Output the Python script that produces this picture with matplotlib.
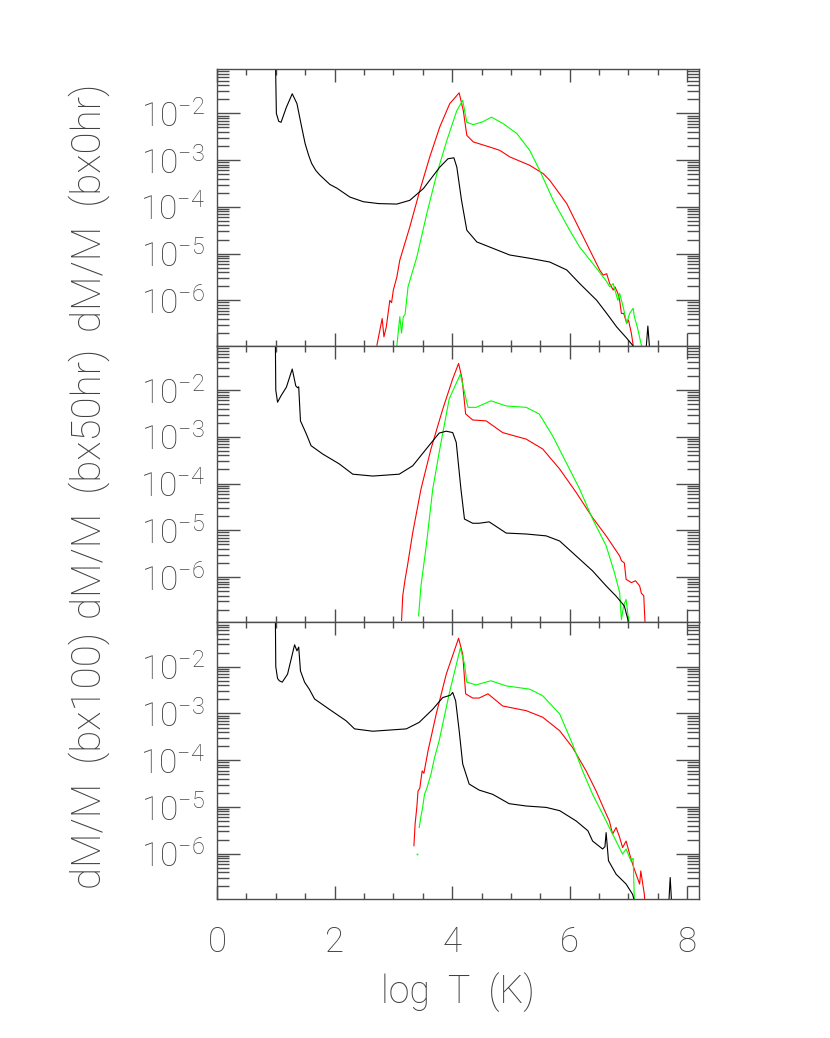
import numpy as np
import matplotlib
matplotlib.use('Agg')
import matplotlib.pyplot as plt
from matplotlib.ticker import LogLocator, MultipleLocator, FuncFormatter, NullFormatter

# thin sans font to stand in for the IDL vector font
plt.rcParams['font.family'] = ['Roboto', 'DejaVu Sans']
plt.rcParams['font.weight'] = 'light'
plt.rcParams['axes.labelweight'] = 'light'

# ---- data: log T vs log10(dM/M) ----
# panel 1 (bx0hr)
p1_blk_x = [0.99, 1.01, 1.05, 1.09, 1.18, 1.28, 1.36, 1.44, 1.50, 1.56, 1.61, 1.68, 1.75, 1.92, 2.04, 2.26, 2.49, 2.75,
            3.06, 3.28, 3.51, 3.79, 3.93, 4.03, 4.08, 4.16, 4.25, 4.42, 4.70, 4.98, 5.32, 5.66, 5.95, 6.17,
            6.46, 6.63, 6.80, 6.97, 7.07, 7.15, np.nan, 7.29, 7.33, 7.37]
p1_blk_y = [-0.5, -2.00, -2.17, -2.19, -1.87, -1.58, -1.79, -2.29, -2.65, -2.90, -3.07, -3.22, -3.32, -3.52, -3.60, -3.79, -3.89, -3.93,
            -3.94, -3.86, -3.61, -3.15, -2.97, -2.95, -3.15, -3.86, -4.50, -4.75, -4.89, -5.03, -5.10, -5.18, -5.35, -5.64,
            -6.00, -6.28, -6.57, -6.81, -6.96, -7.2, np.nan, -7.2, -6.55, -7.2]
p1_red_x = [2.72, 2.81, 2.84, 2.88, 2.94, 2.97, 3.00, 3.06, 3.11, 3.28, 3.45, 3.62, 3.79, 3.96, 4.12, 4.19, 4.25,
            4.36, 4.64, 4.81, 4.98, 5.32, 5.55, 5.66, 5.95, 6.23, 6.51, 6.57, 6.63, 6.68, 6.74, 6.77, 6.82, 6.85,
            6.88, 6.92, 6.97, 7.00, 7.05, 7.08, 7.12]
p1_red_y = [-6.96, -6.39, -6.78, -6.57, -6.00, -6.05, -5.78, -5.50, -5.14, -4.43, -3.65, -2.93, -2.29, -1.79, -1.56, -1.94, -2.47,
            -2.61, -2.72, -2.79, -2.93, -3.11, -3.29, -3.43, -3.93, -4.64, -5.35, -5.46, -5.43, -5.64, -5.78, -5.71, -5.85, -6.00,
            -6.28, -6.28, -6.49, -6.42, -6.71, -6.96, -7.2]
p1_grn_x = [3.06, 3.11, 3.14, 3.17, 3.20, 3.25, 3.40, 3.57, 3.74, 3.91, 4.08, 4.18, 4.25, 4.36, 4.52, 4.67, 4.87,
            5.10, 5.32, 5.49, 5.72, 6.00, 6.17, 6.46, 6.57, 6.63, 6.68, 6.74, 6.77, 6.82, 6.85, 6.91, 6.97, 7.02,
            7.08, 7.10, 7.15, 7.22, 7.25]
p1_grn_y = [-6.97, -6.35, -6.70, -6.35, -6.30, -5.71, -5.07, -4.14, -3.29, -2.58, -1.94, -1.72, -2.19, -2.24, -2.18, -2.08, -2.22,
            -2.43, -2.79, -3.22, -3.86, -4.50, -4.86, -5.32, -5.50, -5.60, -5.71, -5.64, -5.78, -6.00, -5.85, -6.14, -6.49, -6.28,
            -6.17, -6.35, -6.57, -6.96, -7.2]

# panel 2 (bx50hr)
p2_blk_x = [0.99, 1.00, 1.03, 1.09, 1.18, 1.28, 1.34, 1.37, 1.39, 1.42, 1.52, 1.60, 1.80, 2.08, 2.31, 2.65, 3.10,
            3.33, 3.56, 3.78, 3.90, 4.01, 4.07, 4.15, 4.21, 4.35, 4.46, 4.63, 4.92, 5.26, 5.60, 5.83, 6.11, 6.39,
            6.62, 6.79, 6.93, 6.99, 7.02]
p2_blk_y = [-0.5, -2.00, -2.26, -2.12, -1.94, -1.55, -1.91, -1.95, -1.93, -2.66, -2.94, -3.19, -3.37, -3.58, -3.80, -3.84, -3.80,
            -3.62, -3.26, -2.92, -2.88, -2.91, -3.12, -4.12, -4.76, -4.85, -4.85, -4.82, -5.06, -5.08, -5.12, -5.23, -5.55, -5.87,
            -6.19, -6.41, -6.62, -6.91, -7.2]
p2_red_x = [3.14, 3.16, 3.20, 3.24, 3.33, 3.47, 3.64, 3.84, 4.01, 4.11, 4.17, 4.23, 4.35, 4.58, 4.86, 5.26, 5.54,
            5.83, 6.11, 6.39, 6.62, 6.85, 6.88, 6.93, 6.96, 7.05, 7.12, 7.19, 7.22, 7.26, 7.28, 7.30]
p2_red_y = [-6.93, -6.40, -6.05, -5.76, -5.05, -4.12, -3.26, -2.41, -1.76, -1.43, -1.76, -2.51, -2.64, -2.66, -2.91, -3.05, -3.26,
            -3.69, -4.19, -4.73, -5.12, -5.55, -5.65, -5.70, -6.05, -6.12, -6.08, -6.19, -6.35, -6.40, -6.93, -7.2]
p2_grn_x = [3.43, 3.47, 3.56, 3.67, 3.78, 3.95, 4.14, 4.21, 4.27, 4.41, 4.66, 4.92, 5.26, 5.48, 5.71, 5.94, 6.17,
            6.39, 6.62, 6.76, 6.85, 6.88, 6.92, 6.96, 7.00, 7.02]
p2_grn_y = [-6.83, -6.19, -5.33, -4.12, -3.33, -2.19, -1.66, -2.05, -2.37, -2.37, -2.23, -2.34, -2.37, -2.51, -2.98, -3.55, -4.12,
            -4.76, -5.33, -5.90, -6.33, -6.91, -6.60, -6.48, -6.91, -7.2]

# panel 3 (bx100)
p3_blk_x = [0.99, 1.00, 1.03, 1.06, 1.11, 1.20, 1.32, 1.36, 1.39, 1.42, 1.49, 1.57, 1.66, 1.91, 2.20, 2.34, 2.65,
            3.22, 3.44, 3.67, 3.84, 3.97, 4.01, 4.06, 4.12, 4.18, 4.29, 4.46, 4.69, 4.97, 5.26, 5.60, 5.83, 6.11,
            6.31, 6.39, 6.56, 6.60, 6.62, 6.66, 6.79, 6.96, 7.07, 7.12, np.nan, 7.68, 7.71, 7.74]
p3_blk_y = [-0.5, -2.00, -2.25, -2.30, -2.33, -2.16, -1.53, -1.66, -1.58, -2.09, -2.33, -2.48, -2.69, -2.91, -3.16, -3.33, -3.38,
            -3.33, -3.19, -2.91, -2.66, -2.61, -2.55, -2.73, -3.37, -4.08, -4.51, -4.64, -4.73, -4.93, -4.98, -5.01, -5.08, -5.30,
            -5.51, -5.73, -5.90, -5.85, -5.55, -6.15, -6.44, -6.65, -6.87, -7.1, np.nan, -7.2, -6.51, -7.2]
p3_red_x = [3.35, 3.37, 3.40, 3.42, 3.45, 3.49, 3.52, 3.59, 3.73, 3.90, 4.11, 4.18, 4.23, 4.35, 4.46, 4.61, 4.86,
            5.26, 5.54, 5.83, 6.05, 6.28, 6.45, 6.62, 6.675, 6.73, 6.79, 6.85, 6.90, 6.96, 7.02, 7.07, 7.13, 7.19,
            7.21, 7.27, 7.29]
p3_red_y = [-5.83, -5.37, -5.00, -4.66, -4.60, -4.23, -4.28, -3.80, -3.01, -2.16, -1.39, -1.73, -2.58, -2.67, -2.67, -2.58, -2.84,
            -2.94, -3.08, -3.37, -3.73, -4.23, -4.66, -5.15, -5.30, -5.58, -5.44, -5.65, -5.87, -5.73, -6.01, -6.22, -6.44, -6.65,
            -6.37, -6.87, -7.2]
p3_grn_x = [3.44, 3.47, 3.50, 3.53, 3.57, 3.64, 3.70, 3.78, 3.95, 4.14, 4.21, 4.25, 4.41, 4.46, 4.66, 4.92, 5.32,
            5.54, 5.83, 6.05, 6.22, 6.39, 6.56, 6.73, 6.90, 6.96, 7.04, 7.08, 7.10, 7.12]
p3_grn_y = [-5.44, -5.20, -5.00, -4.73, -4.60, -4.30, -3.95, -3.58, -2.58, -1.60, -1.94, -2.33, -2.39, -2.37, -2.30, -2.41, -2.48,
            -2.62, -3.01, -3.66, -4.23, -4.73, -5.15, -5.58, -6.01, -5.90, -6.15, -6.10, -7.00, -7.2]
p3_grn_dot = (3.40, -6.0)

panels = [
    ('dM/M  (bx0hr)', (p1_blk_x, p1_blk_y), (p1_red_x, p1_red_y), (p1_grn_x, p1_grn_y)),
    ('dM/M  (bx50hr)', (p2_blk_x, p2_blk_y), (p2_red_x, p2_red_y), (p2_grn_x, p2_grn_y)),
    ('dM/M  (bx100)', (p3_blk_x, p3_blk_y), (p3_red_x, p3_red_y), (p3_grn_x, p3_grn_y)),
]

fig = plt.figure(figsize=(8.3, 10.38), dpi=100)
L, R, T, B = 217/830, 699/830, 1-69/1038, 1-899/1038
gs = fig.add_gridspec(3, 1, left=L, right=R, top=T, bottom=B, hspace=0)

axc = '0.3'
txtc = '0.25'
fmt = FuncFormatter(lambda v, p: r'$\mathdefault{10^{%d}}$' % int(round(np.log10(v))))

for i, (lab, blk, red, grn) in enumerate(panels):
    ax = fig.add_subplot(gs[i, 0])
    ax.plot(red[0], 10**np.array(red[1]), color='#ff0000', lw=0.8)
    ax.plot(grn[0], 10**np.array(grn[1]), color='#00ff00', lw=0.8)
    ax.plot(blk[0], 10**np.array(blk[1]), color='black', lw=0.8)
    if i == 2:
        ax.plot([p3_grn_dot[0]], [10**p3_grn_dot[1]], 's', color='#00ff00', ms=1.2, mew=0)
    ax.set_yscale('log')
    ax.set_xlim(0, 8.2)
    ax.set_ylim(10**-6.97, 10**-1.05)
    ax.xaxis.set_major_locator(MultipleLocator(2))
    ax.xaxis.set_minor_locator(MultipleLocator(0.5))
    ax.yaxis.set_major_locator(LogLocator(base=10, numticks=20))
    ax.yaxis.set_minor_locator(LogLocator(base=10, subs=np.arange(2, 10), numticks=100))
    ax.yaxis.set_major_formatter(fmt)
    ax.yaxis.set_minor_formatter(NullFormatter())
    ax.tick_params(which='both', direction='in', top=True, right=True, color=axc, width=1.0)
    ax.tick_params(axis='y', which='major', length=16.5, pad=9, labelsize=24, labelcolor=txtc)
    ax.tick_params(axis='y', which='minor', length=8.6)
    ax.tick_params(axis='x', which='major', length=9.4, pad=19, labelsize=25, labelcolor=txtc)
    ax.tick_params(axis='x', which='minor', length=4.3)
    if i < 2:
        ax.tick_params(axis='x', labelbottom=False)
    for s in ax.spines.values():
        s.set_color(axc)
        s.set_linewidth(1.0)
    ax.set_ylabel(lab, fontsize=29, color=txtc, va='center')
    ax.yaxis.set_label_coords(-0.265, 0.5)

fig.text(458/830, 1-992/1038, 'log  T  (K)', ha='center', va='center', fontsize=27, color=txtc)

fig.savefig('out.png', dpi=100)
